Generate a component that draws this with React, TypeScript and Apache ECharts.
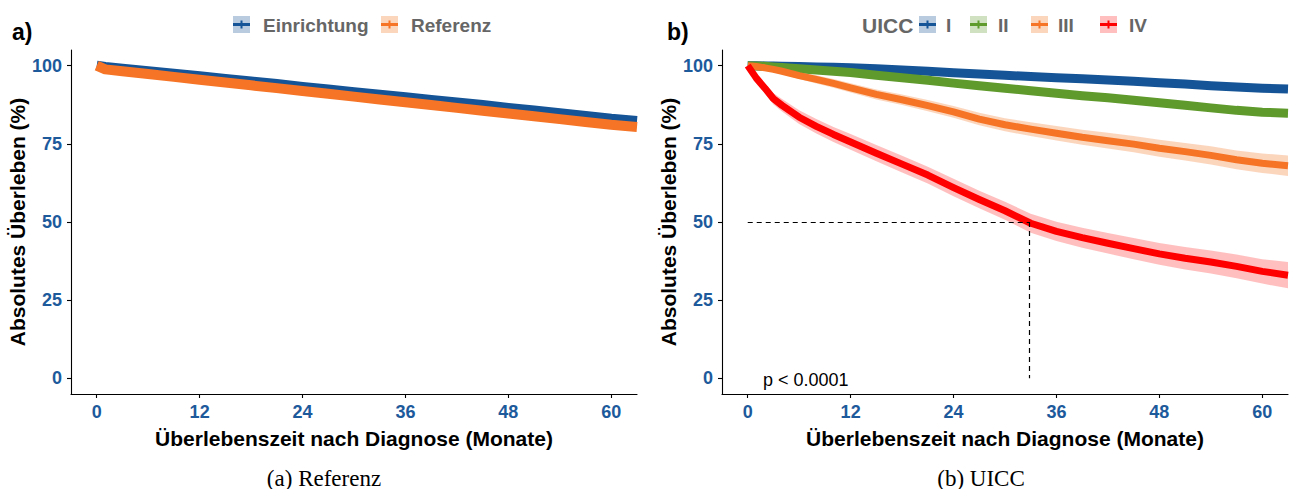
import React, { useEffect, useRef } from "react";
import * as echarts from "echarts";

// ---------- Data ----------
const xTicks = [0, 12, 24, 36, 48, 60];
const yTicks = [0, 25, 50, 75, 100];

// Panel a
const aMonths = [0, 1, 3, 6, 9, 12, 15, 18, 21, 24, 27, 30, 33, 36, 39, 42, 45, 48, 51, 54, 57, 60, 63];
const einrichtung = [100, 99.6, 99.0, 98.2, 97.4, 96.6, 95.7, 94.9, 94.1, 93.2, 92.4, 91.5, 90.7, 89.9, 89.0, 88.2, 87.4, 86.5, 85.7, 84.8, 83.9, 83.0, 82.3];
const einrichtungCi = [0, 0.2, 0.3, 0.3, 0.4, 0.4, 0.4, 0.5, 0.5, 0.5, 0.5, 0.6, 0.6, 0.6, 0.6, 0.7, 0.7, 0.7, 0.7, 0.8, 0.8, 0.8, 0.9];
const referenz = [100, 98.8, 98.2, 97.3, 96.4, 95.5, 94.6, 93.7, 92.8, 91.9, 91.0, 90.1, 89.2, 88.3, 87.4, 86.5, 85.6, 84.7, 83.8, 82.9, 82.0, 81.1, 80.4];
const referenzCi = [0, 0.1, 0.1, 0.2, 0.2, 0.2, 0.2, 0.2, 0.3, 0.3, 0.3, 0.3, 0.3, 0.3, 0.3, 0.4, 0.4, 0.4, 0.4, 0.4, 0.4, 0.4, 0.5];

// Panel b
const bMonths = [0, 1, 2, 3, 4, 6, 8, 10, 12, 15, 18, 21, 24, 27, 30, 33, 36, 39, 42, 45, 48, 51, 54, 57, 60, 63];
const uiccI = [100, 100, 99.9, 99.9, 99.8, 99.7, 99.6, 99.5, 99.3, 99.0, 98.6, 98.2, 97.7, 97.3, 96.9, 96.5, 96.1, 95.8, 95.4, 95.0, 94.5, 94.1, 93.6, 93.2, 92.8, 92.5];
const uiccICi = [0, 0.1, 0.1, 0.1, 0.2, 0.2, 0.2, 0.3, 0.3, 0.3, 0.4, 0.4, 0.4, 0.5, 0.5, 0.5, 0.6, 0.6, 0.6, 0.7, 0.7, 0.7, 0.8, 0.8, 0.9, 0.9];
const uiccII = [100, 99.9, 99.8, 99.6, 99.4, 99.0, 98.6, 98.2, 97.8, 96.9, 96.1, 95.3, 94.4, 93.6, 92.8, 92.0, 91.2, 90.4, 89.7, 88.9, 88.1, 87.3, 86.5, 85.7, 85.1, 84.8];
const uiccIICi = [0, 0.1, 0.2, 0.2, 0.2, 0.3, 0.3, 0.4, 0.4, 0.5, 0.5, 0.6, 0.6, 0.7, 0.7, 0.8, 0.8, 0.9, 0.9, 1.0, 1.0, 1.1, 1.1, 1.2, 1.2, 1.3];
const uiccIII = [100, 99.7, 99.3, 98.8, 98.2, 96.8, 95.6, 94.3, 92.9, 90.8, 89.1, 87.2, 85.2, 82.9, 81.1, 79.7, 78.4, 77.1, 76.0, 74.9, 73.6, 72.5, 71.3, 69.9, 68.8, 68.0];
const uiccIIICi = [0, 0.4, 0.6, 0.8, 0.9, 1.1, 1.3, 1.4, 1.5, 1.6, 1.7, 1.8, 1.9, 2.0, 2.1, 2.2, 2.3, 2.4, 2.5, 2.6, 2.7, 2.8, 2.9, 3.0, 3.1, 3.3];
const uiccIV = [100, 96.0, 92.8, 89.4, 87.3, 83.5, 80.6, 78.0, 75.6, 72.0, 68.5, 65.0, 61.0, 57.2, 53.6, 49.6, 47.0, 45.0, 43.2, 41.5, 39.8, 38.4, 37.2, 35.8, 34.2, 33.0];
const uiccIVCi = [0, 1.2, 1.6, 1.8, 2.0, 2.2, 2.3, 2.4, 2.5, 2.6, 2.7, 2.7, 2.8, 2.8, 2.9, 3.0, 3.1, 3.2, 3.3, 3.4, 3.5, 3.6, 3.7, 3.8, 3.9, 4.2];
const medianIV = 32.8;
const medianLevel = 50;
const pValueText = "p < 0.0001";

// ---------- Styles ----------
const SANS = "Liberation Sans, Arial, Helvetica, sans-serif";
const SERIF = "Liberation Serif, Times New Roman, serif";
const TICK_BLUE = "#1d5a9c";
const C = {
  blue: "#155496",
  orange: "#f57426",
  green: "#5f9a2d",
  red: "#ff0000",
};
const BAND = {
  blue: "rgba(21,84,150,0.3)",
  orange: "rgba(245,116,38,0.3)",
  green: "rgba(95,154,45,0.3)",
  red: "rgba(255,0,0,0.25)",
};

function pairs(xs: number[], ys: number[]) {
  return xs.map((x, i) => [x, ys[i]]);
}

// Confidence band drawn as one polygon through the axes' own scales
function bandSeries(idx: number, xs: number[], ys: number[], ci: number[], color: string) {
  const data = xs.map((x, i) => [x, ys[i] - ci[i], ys[i] + ci[i]]);
  return {
    type: "custom", xAxisIndex: idx, yAxisIndex: idx, silent: true,
    data,
    encode: { x: 0, y: [1, 2] },
    renderItem: (params: any, api: any) => {
      if (params.dataIndex !== 0) return null;
      const upper = data.map((d) => api.coord([d[0], d[2]]));
      const lower = data.map((d) => api.coord([d[0], d[1]])).reverse();
      return {
        type: "polygon",
        shape: { points: upper.concat(lower) },
        style: { fill: color },
      };
    },
  };
}

function lineSeries(idx: number, xs: number[], ys: number[], color: string, width: number, extra: any = {}) {
  return {
    type: "line", xAxisIndex: idx, yAxisIndex: idx, data: pairs(xs, ys),
    symbol: "none", silent: true, lineStyle: { color, width, cap: "butt", join: "round" },
    ...extra,
  };
}

function xAxisCfg(idx: number) {
  return {
    type: "value", gridIndex: idx, min: -3, max: 63,
    axisLine: { show: true, onZero: false, lineStyle: { color: "#000", width: 1.1 } },
    axisTick: { show: true, length: 4, customValues: xTicks, lineStyle: { color: "#000", width: 1.1 } },
    axisLabel: { customValues: xTicks, color: TICK_BLUE, fontWeight: "bold", fontSize: 18, fontFamily: SANS, margin: 9 },
    splitLine: { show: false },
    name: "Überlebenszeit nach Diagnose (Monate)",
    nameLocation: "middle", nameGap: 34,
    nameTextStyle: { color: "#000", fontWeight: "bold", fontSize: 21, fontFamily: SANS },
  };
}
function yAxisCfg(idx: number) {
  return {
    type: "value", gridIndex: idx, min: -5, max: 105,
    axisLine: { show: true, onZero: false, lineStyle: { color: "#000", width: 1.1 } },
    axisTick: { show: true, length: 4, customValues: yTicks, lineStyle: { color: "#000", width: 1.1 } },
    axisLabel: { customValues: yTicks, color: TICK_BLUE, fontWeight: "bold", fontSize: 18, fontFamily: SANS, margin: 9 },
    splitLine: { show: false },
    name: "Absolutes Überleben (%)",
    nameLocation: "middle", nameGap: 38, nameRotate: 90,
    nameTextStyle: { color: "#000", fontWeight: "bold", fontSize: 21, fontFamily: SANS },
  };
}

function legendKey(x: number, y: number, color: string, band: string) {
  return {
    type: "group", x, y,
    children: [
      { type: "rect", shape: { x: 0, y: 0, width: 17, height: 17 }, style: { fill: band } },
      { type: "line", shape: { x1: 0, y1: 8.5, x2: 17, y2: 8.5 }, style: { stroke: color, lineWidth: 3 } },
      { type: "line", shape: { x1: 8.5, y1: 4.5, x2: 8.5, y2: 12.5 }, style: { stroke: color, lineWidth: 2 } },
    ],
  };
}
function legendText(x: number, y: number, text: string, size = 19) {
  return {
    type: "text", x, y,
    style: { text, fill: "#666666", font: `bold ${size}px ${SANS}`, textVerticalAlign: "middle", textAlign: "left" },
  };
}

export default function App() {
  const ref = useRef<HTMLDivElement>(null);
  useEffect(() => {
    document.body.style.margin = "0";
    const chart = echarts.init(ref.current!, null, { renderer: "svg" });
    const option: any = {
      animation: false,
      backgroundColor: "#ffffff",
      grid: [
        { left: 71, top: 50, width: 566, height: 344 },
        { left: 722, top: 50, width: 566, height: 344 },
      ],
      xAxis: [xAxisCfg(0), xAxisCfg(1)],
      yAxis: [yAxisCfg(0), yAxisCfg(1)],
      series: [
        bandSeries(0, aMonths, einrichtung, einrichtungCi, BAND.blue),
        bandSeries(0, aMonths, referenz, referenzCi, BAND.orange),
        lineSeries(0, aMonths, einrichtung, C.blue, 10),
        lineSeries(0, aMonths, referenz, C.orange, 10),
        bandSeries(1, bMonths, uiccI, uiccICi, BAND.blue),
        bandSeries(1, bMonths, uiccII, uiccIICi, BAND.green),
        bandSeries(1, bMonths, uiccIII, uiccIIICi, BAND.orange),
        bandSeries(1, bMonths, uiccIV, uiccIVCi, BAND.red),
        lineSeries(1, bMonths, uiccI, C.blue, 9),
        lineSeries(1, bMonths, uiccII, C.green, 9),
        lineSeries(1, bMonths, uiccIII, C.orange, 7),
        lineSeries(1, bMonths, uiccIV, C.red, 7, {
          markLine: {
            symbol: "none", silent: true, label: { show: false },
            lineStyle: { type: [5, 4], color: "#000", width: 1.2 },
            data: [
              [{ coord: [0, medianLevel] }, { coord: [medianIV, medianLevel] }],
              [{ coord: [medianIV, medianLevel] }, { coord: [medianIV, 0] }],
            ],
          },
        }),
      ],
      graphic: [
        { type: "text", x: 12, y: 32, style: { text: "a)", fill: "#000", font: `bold 23px ${SANS}`, textVerticalAlign: "middle" } },
        { type: "text", x: 667, y: 32, style: { text: "b)", fill: "#000", font: `bold 23px ${SANS}`, textVerticalAlign: "middle" } },
        legendKey(233, 16, C.blue, BAND.blue),
        legendText(263, 25, "Einrichtung"),
        legendKey(381, 16, C.orange, BAND.orange),
        legendText(411, 25, "Referenz"),
        legendText(862, 25, "UICC", 21),
        legendKey(919, 16, C.blue, BAND.blue),
        legendText(946, 25, "I"),
        legendKey(970, 16, C.green, BAND.green),
        legendText(998, 25, "II"),
        legendKey(1031, 16, C.orange, BAND.orange),
        legendText(1058, 25, "III"),
        legendKey(1100, 16, C.red, BAND.red),
        legendText(1129, 25, "IV"),
        { type: "text", x: 763, y: 380, style: { text: pValueText, fill: "#000", font: `18px ${SANS}`, textVerticalAlign: "middle" } },
        { type: "text", x: 324, y: 478, style: { text: "(a) Referenz", fill: "#000", font: `23px ${SERIF}`, textVerticalAlign: "middle", textAlign: "center" } },
        { type: "text", x: 981, y: 478, style: { text: "(b) UICC", fill: "#000", font: `23px ${SERIF}`, textVerticalAlign: "middle", textAlign: "center" } },
      ],
    };
    chart.setOption(option);
    return () => chart.dispose();
  }, []);
  return <div ref={ref} style={{ position: "absolute", left: 0, top: 0, width: 1289, height: 489 }} />;
}
